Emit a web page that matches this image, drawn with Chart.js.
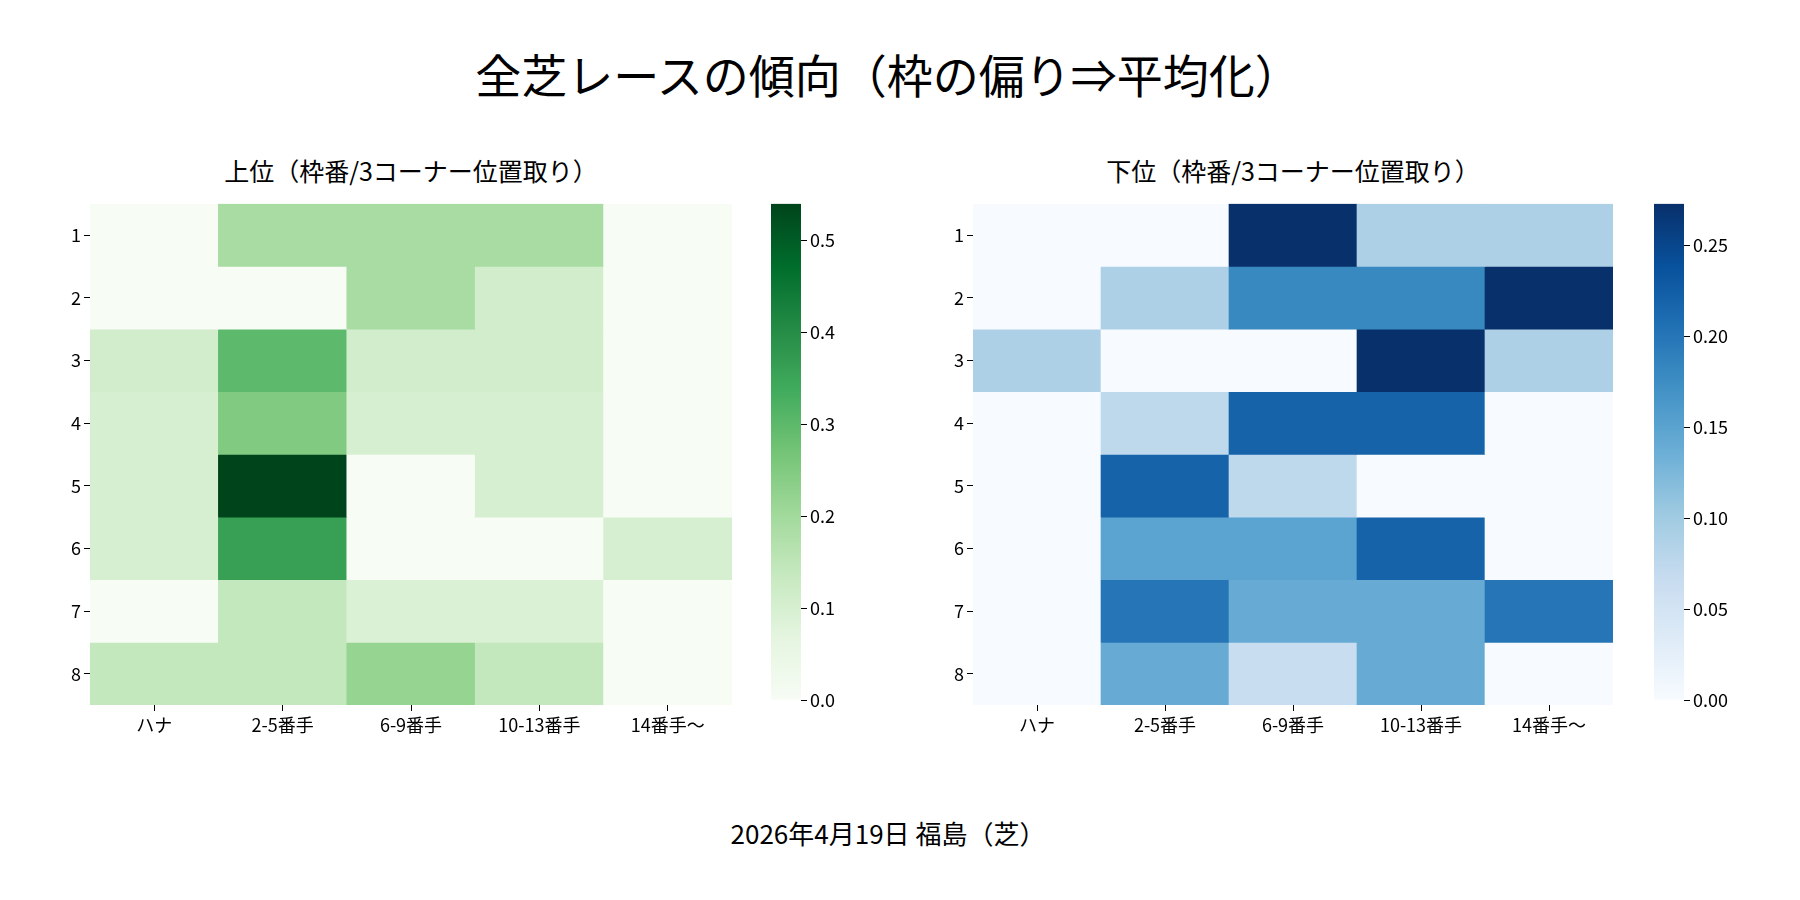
<!DOCTYPE html>
<html><head><meta charset="utf-8">
<script src="https://cdn.jsdelivr.net/npm/chart.js@4/dist/chart.umd.min.js"></script>
<style>
body{margin:0;width:1800px;height:900px;background:#fff;font-family:"Noto Sans CJK JP",sans-serif;position:relative;overflow:hidden}
.t{position:absolute;left:0;width:1800px;text-align:center;color:#000}
canvas{position:absolute}
</style></head><body>
<div class="t" style="top:40px;left:-12px;font-size:46px">全芝レースの傾向（枠の偏り⇒平均化）</div>
<div class="t" style="top:152px;left:90px;width:642px;font-size:25px">上位（枠番/3コーナー位置取り）</div>
<div class="t" style="top:152px;left:973px;width:640px;font-size:25px">下位（枠番/3コーナー位置取り）</div>
<div class="t" style="top:814px;left:-12px;font-size:26px">2026年4月19日 福島（芝）</div>
<div style="position:absolute;left:40px;top:190px;width:700px;height:555px"><canvas id="hmTop"></canvas></div>
<div style="position:absolute;left:771px;top:190px;width:95px;height:550px"><canvas id="cbTop"></canvas></div>
<div style="position:absolute;left:923px;top:190px;width:698px;height:555px"><canvas id="hmBot"></canvas></div>
<div style="position:absolute;left:1654px;top:190px;width:95px;height:550px"><canvas id="cbBot"></canvas></div>
<script>
const positions = ['ハナ', '2-5番手', '6-9番手', '10-13番手', '14番手〜'];
const gates = ['1', '2', '3', '4', '5', '6', '7', '8'];
const topValues = [
  [0, 0.19, 0.19, 0.19, 0],
  [0, 0, 0.19, 0.11, 0],
  [0.11, 0.30, 0.11, 0.11, 0],
  [0.10, 0.25, 0.10, 0.10, 0],
  [0.10, 0.54, 0, 0.10, 0],
  [0.10, 0.36, 0, 0, 0.10],
  [0, 0.14, 0.09, 0.09, 0],
  [0.14, 0.14, 0.22, 0.14, 0]
];
const botValues = [
  [0, 0, 0.273, 0.09, 0.09],
  [0, 0.09, 0.18, 0.18, 0.273],
  [0.09, 0, 0, 0.273, 0.09],
  [0, 0.075, 0.22, 0.22, 0],
  [0, 0.22, 0.075, 0, 0],
  [0, 0.15, 0.15, 0.22, 0],
  [0, 0.20, 0.14, 0.14, 0.20],
  [0, 0.14, 0.065, 0.14, 0]
];
const topMax = 0.54, botMax = 0.273;
const topTicks = [0, 0.1, 0.2, 0.3, 0.4, 0.5];
const botTicks = [0, 0.05, 0.1, 0.15, 0.2, 0.25];

const greens = ['#f7fcf5','#e5f5e0','#c7e9c0','#a1d99b','#74c476','#41ab5d','#238b45','#006d2c','#00441b'];
const blues = ['#f7fbff','#deebf7','#c6dbef','#9ecae1','#6baed6','#4292c6','#2171b5','#08519c','#08306b'];

function hex(h) { return [1, 3, 5].map(i => parseInt(h.substr(i, 2), 16)); }
function cmap(stops, t) {
  t = Math.max(0, Math.min(1, t)) * (stops.length - 1);
  const i = Math.min(Math.floor(t), stops.length - 2), f = t - i;
  const a = hex(stops[i]), b = hex(stops[i + 1]);
  return `rgb(${a.map((v, k) => Math.round(v + (b[k] - v) * f)).join(',')})`;
}
const font = { family: '"Noto Sans CJK JP", sans-serif', size: 18 };

function heatmap(id, values, stops, max) {
  new Chart(document.getElementById(id), {
    type: 'bar',
    data: {
      labels: positions,
      datasets: gates.map((g, r) => ({
        data: values[r].map(() => [r, r + 1]),
        backgroundColor: values[r].map(v => cmap(stops, v / max)),
        borderWidth: 0, categoryPercentage: 1, barPercentage: 1
      }))
    },
    options: {
      responsive: true, maintainAspectRatio: false, animation: false,
      layout: { padding: { right: 8, top: 8 } },
      plugins: { legend: { display: false }, tooltip: { enabled: false } },
      scales: {
        x: { stacked: true, grid: { offset: false, drawOnChartArea: false, tickLength: 6, color: '#000' }, border: { display: false },
             ticks: { color: '#000', font: font }, afterFit: s => { s.height = 40; } },
        y: { type: 'linear', min: 0, max: 8, reverse: true,
             afterBuildTicks: s => { s.ticks = gates.map((g, i) => ({ value: i + 0.5 })); },
             ticks: { color: '#000', font: font, callback: (v, i) => gates[i] },
             grid: { drawOnChartArea: false, tickLength: 6, color: '#000' }, border: { display: false },
             afterFit: s => { s.width = 50; } }
      }
    }
  });
}
function colorbar(id, stops, max, ticks) {
  new Chart(document.getElementById(id), {
    type: 'bar',
    data: { labels: [''], datasets: [{ data: [[0, max]], borderWidth: 0, categoryPercentage: 1, barPercentage: 1,
      backgroundColor: ctx => {
        const a = ctx.chart.chartArea; if (!a) return stops[0];
        const g = ctx.chart.ctx.createLinearGradient(0, a.bottom, 0, a.top);
        stops.forEach((c, i) => g.addColorStop(i / (stops.length - 1), c));
        return g;
      } }] },
    options: {
      responsive: true, maintainAspectRatio: false, animation: false,
      layout: { padding: { top: 8, bottom: 40 } },
      plugins: { legend: { display: false }, tooltip: { enabled: false } },
      scales: {
        x: { display: false },
        y: { position: 'right', min: 0, max: max,
             afterBuildTicks: s => { s.ticks = ticks.map(v => ({ value: v })); },
             ticks: { color: '#000', font: font, callback: v => v.toFixed(max < 0.3 ? 2 : 1) },
             grid: { drawOnChartArea: false, tickLength: 6, color: '#000' }, border: { display: false },
             afterFit: s => { s.width = 65; } }
      }
    }
  });
}
heatmap('hmTop', topValues, greens, topMax);
heatmap('hmBot', botValues, blues, botMax);
colorbar('cbTop', greens, topMax, topTicks);
colorbar('cbBot', blues, botMax, botTicks);
</script></body></html>
